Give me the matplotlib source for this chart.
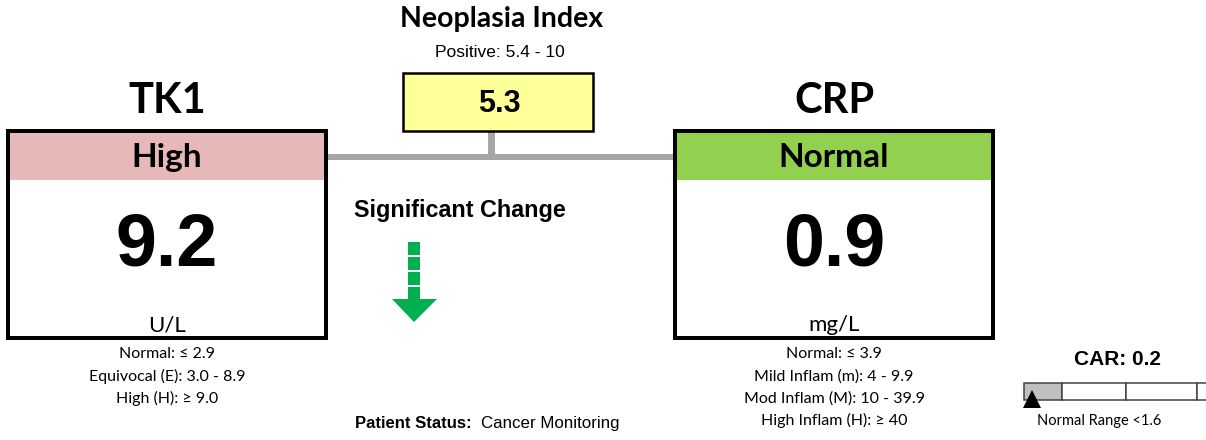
import matplotlib
matplotlib.use('Agg')
import matplotlib.pyplot as plt
from matplotlib.patches import Rectangle, Polygon

# data
markers = ['TK1', 'CRP']
values = [9.2, 0.9]
units = ['U/L', 'mg/L']
statuses = ['High', 'Normal']
tk1_ranges = ['Normal: \u2264 2.9', 'Equivocal (E): 3.0 - 8.9', 'High (H): \u2265 9.0']
crp_ranges = ['Normal: \u2264 3.9', 'Mild Inflam (m): 4 - 9.9',
              'Mod Inflam (M): 10 - 39.9', 'High Inflam (H): \u2265 40']
neoplasia_index = 5.3
neoplasia_range = 'Positive: 5.4 - 10'
car_value = 0.2
car_normal = 1.6
patient_status = 'Cancer Monitoring'

# style
status_colors = {'High': '#E6B8B7', 'Normal': '#92D050'}
calibri = ['Lato', 'DejaVu Sans']
narrow = ['Liberation Sans Narrow', 'Liberation Sans', 'DejaVu Sans']
arial = ['Liberation Sans', 'DejaVu Sans']
gray = '#A6A6A6'

W, H, DPI = 1206, 440, 100
fig = plt.figure(figsize=(W / DPI, H / DPI), dpi=DPI)
ax = fig.add_axes([0, 0, 1, 1])
ax.set_xlim(0, W)
ax.set_ylim(H, 0)
ax.axis('off')


def px(p):
    # pixels -> points
    return p * 72 / DPI


# connector lines
ax.plot([325, 675], [157, 157], color=gray, lw=px(6), solid_capstyle='butt', zorder=1)
ax.plot([491, 491], [131, 157], color=gray, lw=px(7), solid_capstyle='butt', zorder=1)

# marker boxes
boxes_x = [8, 675]
box_w, box_top, box_bot = 318, 131, 338
range_lists = [tk1_ranges, crp_ranges]
for name, val, unit, status, x0, ranges in zip(markers, values, units, statuses,
                                                 boxes_x, range_lists):
    cx = x0 + box_w / 2
    ax.add_patch(Rectangle((x0, box_top), box_w, 49, facecolor=status_colors[status],
                           edgecolor='none', zorder=2))
    ax.add_patch(Rectangle((x0, box_top), box_w, box_bot - box_top, facecolor='none',
                           edgecolor='black', lw=px(4), zorder=3))
    ax.text(cx, 113, name, ha='center', va='baseline', fontsize=30,
            fontweight='bold', family=calibri)
    ax.text(cx, 167, status, ha='center', va='baseline', fontsize=24,
            fontweight='bold', family=calibri)
    ax.text(cx, 266, f'{val:.1f}', ha='center', va='baseline', fontsize=53,
            fontweight='bold', family=narrow)
    ax.text(cx, 331, unit, ha='center', va='baseline', fontsize=16, family=calibri)
    for i, r in enumerate(ranges):
        ax.text(cx, 358 + i * 22.5, r, ha='center', va='baseline', fontsize=11.5,
                family=calibri)

# neoplasia index
ax.text(502, 27, 'Neoplasia Index', ha='center', va='baseline', fontsize=20.5,
        fontweight='bold', family=calibri)
ax.text(500, 57, neoplasia_range, ha='center', va='baseline', fontsize=12.5,
        family=arial)
ax.add_patch(Rectangle((403, 73), 190, 58, facecolor='#FFFF99', edgecolor='black',
                       lw=px(2.5), zorder=3))
ax.text(499, 112, f'{neoplasia_index:.1f}', ha='center', va='baseline', fontsize=22,
        fontweight='bold', family=narrow, zorder=4)

# significant change arrow
ax.text(460, 217, 'Significant Change', ha='center', va='baseline', fontsize=16.8,
        fontweight='bold', family=narrow)
green = '#00B050'
for y0, y1 in [(242, 255), (257, 270), (272, 285), (287, 300)]:
    ax.add_patch(Rectangle((408, y0), 12, y1 - y0, facecolor=green, edgecolor='none'))
ax.add_patch(Polygon([(392, 299), (437, 299), (414, 322)], closed=True,
                     facecolor=green, edgecolor='none'))

# patient status
t1 = ax.text(355, 428, 'Patient Status:', ha='left', va='baseline', fontsize=12,
             fontweight='bold', family=narrow)
fig.canvas.draw()
bb = t1.get_window_extent().transformed(ax.transData.inverted())
ax.text(bb.x1 + 9, 428, patient_status, ha='left', va='baseline', fontsize=12.2,
        family=narrow)

# CAR scale
ax.text(1118, 365, f'CAR: {car_value:.1f}', ha='center', va='baseline', fontsize=15,
        fontweight='bold', family=narrow)
bar_x0, bar_y, bar_h = 1024, 383, 17
seg_widths = [38, 64, 71, 71]
seg_fill = ['#C0C0C0', 'white', 'white', 'white']
x = bar_x0
for w, fc in zip(seg_widths, seg_fill):
    ax.add_patch(Rectangle((x, bar_y), w, bar_h, facecolor=fc, edgecolor='#404040',
                           lw=px(1.5), zorder=2))
    x += w
px_per_unit = 40
mx = bar_x0 + car_value * px_per_unit
ax.add_patch(Polygon([(mx - 9, 408), (mx + 9, 408), (mx, 390)], closed=True,
                     facecolor='black', edgecolor='none', zorder=4))
ax.text(1099, 425, f'Normal Range <{car_normal}', ha='center', va='baseline',
        fontsize=10.5, family=calibri)

fig.savefig('out.png', dpi=DPI, facecolor='white')
